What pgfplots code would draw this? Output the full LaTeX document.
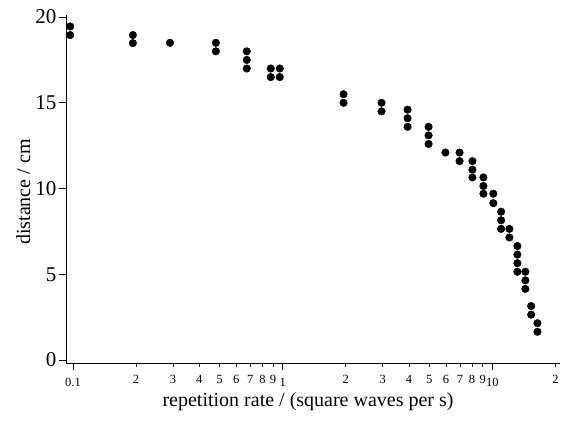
\documentclass[border=0pt]{standalone}
\usepackage{pgfplots}
\pgfplotsset{compat=1.18}
\usepackage{fontspec}
\setmainfont{Liberation Serif}
\begin{document}
\begin{tikzpicture}
\path[use as bounding box] (-66pt,-59pt) rectangle (497pt,363pt);
\begin{axis}[
  scale only axis,
  width=494pt, height=348pt,
  xmode=log, log basis x=10,
  xmin=0.0926, xmax=21,
  ymin=-0.17, ymax=20.12,
  axis lines=left,
  axis line style={line width=0.8pt, -},
  tick style={line width=0.7pt, black},
  tick align=outside,
  major tick length=7pt,
  xtick={0.1,1,10},
  xticklabels={0.1,\raisebox{-2.5pt}{1},\raisebox{-2.5pt}{10}},
  extra x ticks={0.2,0.3,0.4,0.5,0.6,0.7,0.8,0.9,2,3,4,5,6,7,8,9,20},
  extra x tick labels={2,3,4,5,6,7,8,9,2,3,4,5,6,7,8,9,2},
  extra x tick style={major tick length=4pt},
  xminorticks=false,
  ytick={0,5,10,15,20},
  yticklabels={0,5,10,15,20},
  xticklabel style={font=\fontsize{12.5}{14}\selectfont, anchor=north, yshift=-4.5pt},
  yticklabel style={font=\fontsize{21}{22}\selectfont, anchor=east, xshift=1pt},
  xlabel={repetition rate / (square waves per s)},
  ylabel={distance / cm},
  xlabel style={font=\fontsize{20}{22}\selectfont, at={(axis description cs:0.49,-0.1264)}, anchor=base},
  ylabel style={font=\fontsize{20}{22}\selectfont, at={(axis description cs:-0.0725,0.491)}, anchor=base},
  clip=false,
]
\addplot[only marks, mark=*, mark size=3.8pt, black] coordinates {
(0.097,19.45) (0.097,18.95)
(0.193,18.95) (0.193,18.48)
(0.29,18.5)
(0.48,18.5) (0.48,18.0)
(0.674,18.0) (0.674,17.5) (0.674,17.0)
(0.877,17.0) (0.877,16.5)
(0.968,17.0) (0.968,16.5)
(1.95,15.5) (1.95,15.0)
(2.96,15.0) (2.96,14.5)
(3.94,14.6) (3.94,14.1) (3.94,13.6)
(4.96,13.6) (4.96,13.1) (4.96,12.6)
(5.97,12.1)
(6.97,12.1) (6.97,11.6)
(8.03,11.6) (8.03,11.1) (8.03,10.65)
(9.06,10.65) (9.06,10.15) (9.06,9.7)
(10.1,9.7) (10.1,9.15)
(11.0,8.65) (11.0,8.15) (11.0,7.65)
(12.05,7.65) (12.05,7.15)
(13.15,6.65) (13.15,6.15) (13.15,5.65) (13.15,5.15)
(14.36,5.15) (14.36,4.65) (14.36,4.15)
(15.3,3.15) (15.3,2.65)
(16.4,2.15) (16.4,1.65)
};
\end{axis}
\end{tikzpicture}
\end{document}
